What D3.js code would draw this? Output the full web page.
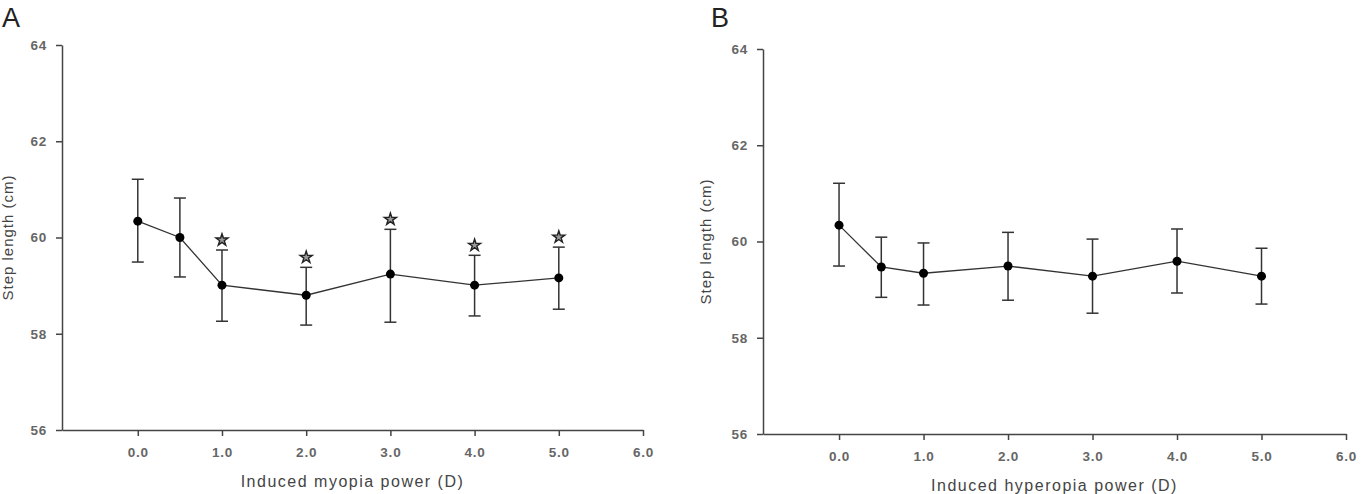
<!DOCTYPE html>
<html>
<head>
<meta charset="utf-8">
<script src="https://cdn.jsdelivr.net/npm/d3@7.9.0/dist/d3.min.js"></script>
<style>
  body { margin: 0; background: #fff; }
  svg { display: block; font-family: "Liberation Sans", Arial, sans-serif; }
  .axis path, .axis line { stroke: #444; stroke-width: 1.5; }
</style>
</head>
<body>
<svg width="1367" height="494"></svg>
<script>
// induced lens power (D)
const powers = [0, 0.5, 1, 2, 3, 4, 5];

// panel A: myopia
const meanA = [60.34, 60.0, 59.01, 58.80, 59.24, 59.01, 59.16];
const upperA = [61.21, 60.82, 59.74, 59.38, 60.17, 59.63, 59.80];
const lowerA = [59.49, 59.18, 58.26, 58.18, 58.24, 58.37, 58.51];
const sigA = [false, false, true, true, true, true, true];

// panel B: hyperopia
const meanB = [60.34, 59.47, 59.34, 59.49, 59.28, 59.59, 59.28];
const upperB = [61.21, 60.09, 59.97, 60.19, 60.05, 60.26, 59.86];
const lowerB = [59.49, 58.84, 58.68, 58.78, 58.51, 58.93, 58.70];
const sigB = [false, false, false, false, false, false, false];

const xTicks = [0, 1, 2, 3, 4, 5, 6];
const yTicks = [56, 58, 60, 62, 64];

const svg = d3.select("svg");

function styleTicks(a) {
  a.attr("font-family", null).attr("font-size", null);
  a.selectAll(".tick text")
    .style("font-size", "13.5px")
    .style("font-weight", "bold")
    .style("letter-spacing", "0.8px")
    .attr("fill", "#666");
}

function drawPanel(p) {
  const x = d3.scaleLinear().domain([-0.9, 6]).range([p.left, p.right]);
  const y = d3.scaleLinear().domain([56, 64]).range([p.bottom, p.top]);
  const g = svg.append("g");

  g.append("g")
    .attr("class", "axis")
    .attr("transform", `translate(0,${p.bottom})`)
    .call(d3.axisBottom(x).tickValues(xTicks).tickFormat(d3.format(".1f"))
      .tickSize(6).tickSizeOuter(0).tickPadding(11))
    .call(styleTicks);

  g.append("g")
    .attr("class", "axis")
    .attr("transform", `translate(${p.left},0)`)
    .call(d3.axisLeft(y).tickValues(yTicks).tickSize(6).tickSizeOuter(0).tickPadding(9))
    .call(styleTicks);

  const rows = powers.map((v, i) => ({ x: v, m: p.mean[i], hi: p.upper[i], lo: p.lower[i], s: p.sig[i] }));

  // error bars
  const eb = g.append("g").attr("stroke", "#333").attr("stroke-width", 1.5);
  rows.forEach(d => {
    eb.append("line").attr("x1", x(d.x)).attr("x2", x(d.x)).attr("y1", y(d.lo)).attr("y2", y(d.hi));
    eb.append("line").attr("x1", x(d.x) - 6).attr("x2", x(d.x) + 6).attr("y1", y(d.hi)).attr("y2", y(d.hi));
    eb.append("line").attr("x1", x(d.x) - 6).attr("x2", x(d.x) + 6).attr("y1", y(d.lo)).attr("y2", y(d.lo));
  });

  g.append("path")
    .datum(rows)
    .attr("fill", "none")
    .attr("stroke", "#333")
    .attr("stroke-width", 1.3)
    .attr("d", d3.line().x(d => x(d.x)).y(d => y(d.m)));

  g.selectAll("circle.pt")
    .data(rows)
    .join("circle")
    .attr("class", "pt")
    .attr("cx", d => x(d.x))
    .attr("cy", d => y(d.m))
    .attr("r", 4.5)
    .attr("fill", "#000");

  g.selectAll("path.star")
    .data(rows.filter(d => d.s))
    .join("path")
    .attr("class", "star")
    .attr("transform", d => `translate(${x(d.x)},${y(d.hi) - 10})`)
    .attr("d", d3.symbol(d3.symbolStar, 45))
    .attr("fill", "#999")
    .attr("stroke", "#222")
    .attr("stroke-width", 1.4);

  g.append("text")
    .attr("x", (p.left + p.right) / 2)
    .attr("y", p.bottom + 57)
    .attr("text-anchor", "middle")
    .attr("font-size", 16)
    .attr("letter-spacing", 1.5)
    .attr("fill", "#444")
    .text(p.xTitle);

  g.append("text")
    .attr("transform", `translate(${p.yTitleX},${(p.top + p.bottom) / 2}) rotate(-90)`)
    .attr("text-anchor", "middle")
    .attr("font-size", 15)
    .attr("letter-spacing", 1)
    .attr("fill", "#444")
    .text("Step length (cm)");

  g.append("text")
    .attr("x", p.labelX)
    .attr("y", 27)
    .attr("font-size", 27)
    .attr("fill", "#222")
    .text(p.label);
}

drawPanel({
  left: 62, right: 643, top: 45, bottom: 430,
  mean: meanA, upper: upperA, lower: lowerA, sig: sigA,
  xTitle: "Induced myopia power (D)", yTitleX: 13, label: "A", labelX: 2
});

drawPanel({
  left: 763, right: 1346, top: 49, bottom: 434,
  mean: meanB, upper: upperB, lower: lowerB, sig: sigB,
  xTitle: "Induced hyperopia power (D)", yTitleX: 711, label: "B", labelX: 711
});
</script>
</body>
</html>
